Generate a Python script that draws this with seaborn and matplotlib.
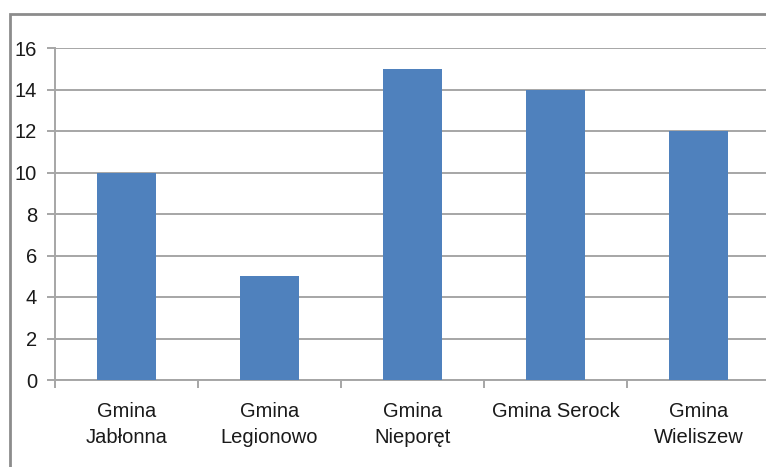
import seaborn as sns
import pandas as pd
import matplotlib.pyplot as plt
import matplotlib.ticker as ticker
from matplotlib.patches import Rectangle

# values
gminy = ["Gmina\nJabłonna", "Gmina\nLegionowo", "Gmina\nNieporęt", "Gmina Serock", "Gmina\nWieliszew"]
liczba = [10, 5, 15, 14, 12]
yticks = [0, 2, 4, 6, 8, 10, 12, 14, 16]

bar_color = "#4F81BD"
grid_color = "#A6A6A6"

sns.set_style("white")
plt.rcParams["font.family"] = ["Liberation Sans", "DejaVu Sans"]

df = pd.DataFrame({"gmina": gminy, "liczba": liczba})

fig = plt.figure(figsize=(7.66, 4.67), dpi=100)
ax = fig.add_axes([55 / 766, 1 - 380 / 467, 715 / 766, 332 / 467])

sns.barplot(data=df, x="gmina", y="liczba", color=bar_color, saturation=1,
            width=0.41, ax=ax, zorder=3, linewidth=0, edgecolor="none")

ax.set_xlim(-0.5, len(gminy) - 0.5)
ax.set_ylim(0, 16)
ax.set_yticks(yticks)
ax.set_xlabel("")
ax.set_ylabel("")

# horizontal gridlines, Excel style
ax.yaxis.grid(True, color=grid_color, linewidth=1.4, zorder=0)
ax.set_axisbelow(True)

for side in ["top", "right"]:
    ax.spines[side].set_visible(False)
for side in ["left", "bottom"]:
    ax.spines[side].set_color(grid_color)
    ax.spines[side].set_linewidth(1.4)

# category boundary ticks on the x axis
ax.xaxis.set_minor_locator(ticker.FixedLocator([i - 0.5 for i in range(len(gminy) + 1)]))
ax.tick_params(axis="x", which="major", bottom=False, length=0, pad=16, labelsize=14.5, labelcolor="#1a1a1a")
ax.tick_params(axis="x", which="minor", bottom=True, length=6, width=1.4, color=grid_color, direction="out")
ax.tick_params(axis="y", length=6, width=1.4, color=grid_color, pad=7, labelsize=14.5,
               labelcolor="#1a1a1a", direction="out", left=True)
for lbl in ax.get_xticklabels():
    lbl.set_linespacing(1.45)
    lbl.set_verticalalignment("top")

# outer chart frame
fig.patches.append(Rectangle((10 / 766, -0.05), 1.1, 1 - 14 / 467 + 0.05,
                             transform=fig.transFigure, fill=False,
                             edgecolor="#8C8C8C", linewidth=2))

fig.savefig("out.png", dpi=100)
